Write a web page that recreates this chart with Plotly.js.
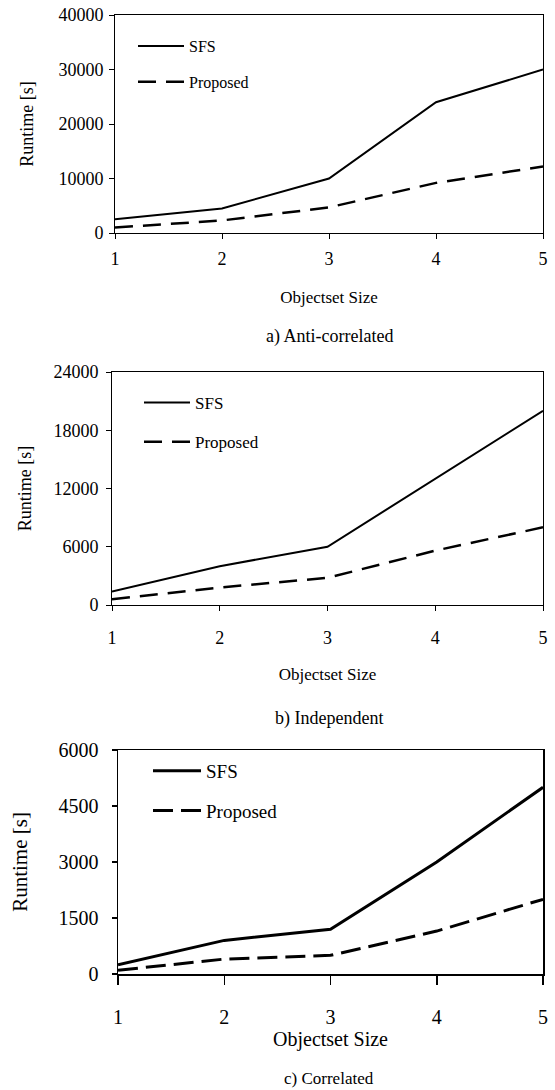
<!DOCTYPE html>
<html>
<head>
<meta charset="utf-8">
<script src="https://cdn.plot.ly/plotly-3.0.1.min.js"></script>
<style>html,body{margin:0;padding:0;background:#fff;}#chart{width:555px;height:1090px;}</style>
</head>
<body>
<div id="chart"></div>
<script>
// ---- data ----
const objectsetSize = [1, 2, 3, 4, 5];
const antiSFS = [2500, 4500, 10000, 24000, 30000];
const antiProposed = [1000, 2300, 4700, 9200, 12200];
const indepSFS = [1400, 4000, 6000, 13000, 20000];
const indepProposed = [600, 1800, 2800, 5600, 8000];
const corrSFS = [250, 900, 1200, 3000, 5000];
const corrProposed = [100, 400, 500, 1150, 2000];
const seriesNames = ['SFS', 'Proposed'];
const captions = ['a) Anti-correlated', 'b) Independent', 'c) Correlated'];
const antiTicks = [0, 10000, 20000, 30000, 40000];
const indepTicks = [0, 6000, 12000, 18000, 24000];
const corrTicks = [0, 1500, 3000, 4500, 6000];

const FONT = "'Liberation Serif', 'Times New Roman', serif";
const W = 555, H = 1090;
const px = v => v / W;
const py = v => 1 - v / H;

function mk(x, y, name, ax, legend, dash, width, grp) {
  return {
    x: x, y: y, name: name, type: 'scatter', mode: 'lines',
    xaxis: 'x' + ax, yaxis: 'y' + ax, legend: legend, legendgroup: grp,
    line: {color: '#000', width: width, dash: dash}
  };
}

const data = [
  mk(objectsetSize, antiSFS, seriesNames[0], '', 'legend', 'solid', 2, 'a1'),
  mk(objectsetSize, antiProposed, seriesNames[1], '', 'legend', '18px,10px', 2.5, 'a2'),
  mk(objectsetSize, indepSFS, seriesNames[0], '2', 'legend2', 'solid', 2, 'b1'),
  mk(objectsetSize, indepProposed, seriesNames[1], '2', 'legend2', '18px,10px', 2.5, 'b2'),
  mk(objectsetSize, corrSFS, seriesNames[0], '3', 'legend3', 'solid', 3, 'c1'),
  mk(objectsetSize, corrProposed, seriesNames[1], '3', 'legend3', '20px,8px', 3, 'c2')
];

function xax(dom, anchor, fs, tfs, standoff, tstand, tlen, lw) {
  return {
    domain: dom, anchor: anchor, range: [1, 5], tickvals: objectsetSize,
    showline: true, mirror: true, linecolor: '#000', linewidth: lw,
    ticks: 'outside', ticklen: tlen, tickcolor: '#000', tickwidth: lw,
    ticklabelstandoff: standoff,
    showgrid: false, zeroline: false, fixedrange: true,
    tickfont: {family: FONT, size: fs, color: '#000'},
    title: {text: 'Objectset Size', font: {family: FONT, size: tfs, color: '#000'}, standoff: tstand},
    automargin: false
  };
}
function yax(dom, anchor, rng, tv, fs, tfs, lstand, tstand, lw) {
  return {
    domain: dom, anchor: anchor, range: rng, tickvals: tv, tickformat: 'd',
    showline: true, mirror: true, linecolor: '#000', linewidth: lw,
    ticks: 'outside', ticklen: 5, tickcolor: '#000', tickwidth: lw,
    ticklabelstandoff: lstand,
    showgrid: false, zeroline: false, fixedrange: true,
    tickfont: {family: FONT, size: fs, color: '#000'},
    title: {text: 'Runtime [s]', font: {family: FONT, size: tfs, color: '#000'}, standoff: tstand},
    automargin: false
  };
}

function leg(x, y, fs, gap, iw) {
  return {
    x: x, y: y, xanchor: 'left', yanchor: 'top', xref: 'paper', yref: 'paper',
    bgcolor: 'rgba(0,0,0,0)', borderwidth: 0, tracegroupgap: gap, itemwidth: iw,
    font: {family: FONT, size: fs, color: '#000'}
  };
}

const layout = {
  width: W, height: H,
  margin: {l: 0, r: 0, t: 0, b: 0},
  paper_bgcolor: '#fff', plot_bgcolor: '#fff',
  showlegend: true,
  xaxis: xax([px(115), px(543)], 'y', 18, 17, 4, 23, 5, 1),
  yaxis: yax([py(233), py(15)], 'x', [0, 40000], antiTicks, 18, 18, 2, 20, 1),
  xaxis2: xax([px(112), px(543)], 'y2', 18, 17, 11, 21, 5, 1),
  yaxis2: yax([py(605), py(372)], 'x2', [0, 24000], indepTicks, 18, 18, 4, 17, 1),
  xaxis3: xax([px(118), px(543)], 'y3', 20, 20, 15, 4, 9, 1.5),
  yaxis3: yax([py(974), py(750)], 'x3', [0, 6000], corrTicks, 20, 21, 9, 25, 1.5),
  legend: leg(px(133), py(29), 16, 12, 46),
  legend2: leg(px(139), py(385), 17, 14, 46),
  legend3: leg(px(148), py(752), 19, 12, 48),
  annotations: [
    {text: captions[0], xref: 'paper', yref: 'paper', x: px(329), y: py(336), xanchor: 'center', yanchor: 'middle', showarrow: false, font: {family: FONT, size: 18, color: '#000'}},
    {text: captions[1], xref: 'paper', yref: 'paper', x: px(329), y: py(718), xanchor: 'center', yanchor: 'middle', showarrow: false, font: {family: FONT, size: 18, color: '#000'}},
    {text: captions[2], xref: 'paper', yref: 'paper', x: px(329), y: py(1078), xanchor: 'center', yanchor: 'middle', showarrow: false, font: {family: FONT, size: 17, color: '#000'}}
  ]
};

Plotly.newPlot('chart', data, layout, {staticPlot: true, displayModeBar: false});
</script>
</body>
</html>
